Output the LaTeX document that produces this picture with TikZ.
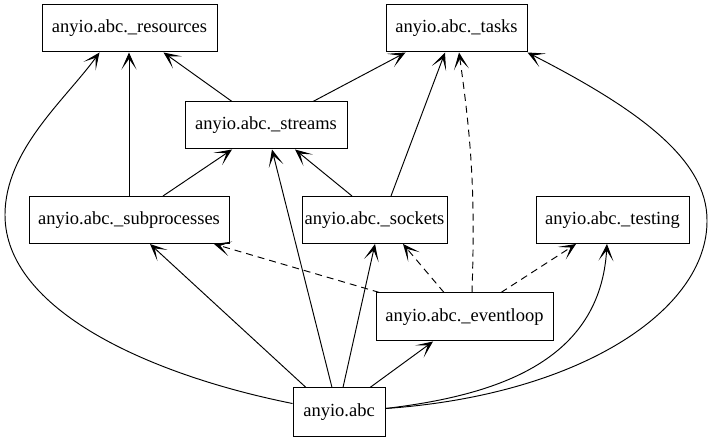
\documentclass[tikz,border=0pt]{standalone}
\usepackage{fontspec}
\setmainfont{Liberation Serif}
\usetikzlibrary{arrows.meta}
\begin{document}
\begin{tikzpicture}[x=1pt,y=-1pt,
  mod/.style={draw,line width=1pt,rectangle,inner sep=0pt,minimum height=47pt,font=\fontsize{18.5}{22}\selectfont},
  dep/.style={line width=0.95pt,-{Stealth[length=17pt,width=15pt,inset=10.5pt]}},
  weak/.style={dep,dash pattern=on 7pt off 5pt}]
\useasboundingbox (0,0) rectangle (715,443);
\node[mod,minimum width=175pt] (res) at (129.5,28.5) {anyio.abc.\_resources};
\node[mod,minimum width=141pt] (tasks) at (456.5,28.5) {anyio.abc.\_tasks};
\node[mod,minimum width=162pt] (streams) at (266,125.5) {anyio.abc.\_streams};
\node[mod,minimum width=200pt] (sub) at (129,220) {anyio.abc.\_subprocesses};
\node[mod,minimum width=145pt] (sock) at (374.5,220) {anyio.abc.\_sockets};
\node[mod,minimum width=153pt] (test) at (612.5,220) {anyio.abc.\_testing};
\node[mod,minimum width=177pt,minimum height=48pt] (el) at (464.5,317) {anyio.abc.\_eventloop};
\node[mod,minimum width=92pt,minimum height=49pt] (abc) at (339,412.5) {anyio.abc};
% solid dependencies
\draw[dep] (sub.north) -- (sub.north |- res.south);
\draw[dep] ([xshift=-34pt]streams.north) -- ([xshift=34pt]res.south);
\draw[dep] ([xshift=47pt]streams.north) -- ([xshift=-51pt]tasks.south);
\draw[dep] ([xshift=34pt]sub.north) -- ([xshift=-34pt]streams.south);
\draw[dep] ([xshift=-22.5pt]sock.north) -- ([xshift=29pt]streams.south);
\draw[dep] ([xshift=16.5pt]sock.north) -- ([xshift=-11.5pt]tasks.south);
\draw[dep] ([xshift=-33pt]abc.north) -- ([xshift=21pt]sub.south);
\draw[dep] ([xshift=-7pt]abc.north) -- ([xshift=6pt]streams.south);
\draw[dep] ([xshift=4pt]abc.north) -- ([xshift=0.5pt]sock.south);
\draw[dep] ([xshift=31pt]abc.north) -- ([xshift=-31.5pt]el.south);
\draw[dep] ([yshift=9pt]abc.west) .. controls (150,375) and (5,310) .. (5,215)
  .. controls (5,150) and (65,100) .. ([xshift=-30pt]res.south);
\draw[dep] ([yshift=4pt]abc.east) .. controls (500,395) and (600,360) .. ([xshift=-5.5pt]test.south);
\draw[dep] ([yshift=4pt]abc.east) .. controls (580,395) and (708,310) .. (707,220)
  .. controls (707,160) and (640,110) .. (tasks.south east);
% dashed dependencies
\draw[weak] ([xshift=7.5pt]el.north) to[bend right=5] ([xshift=2.5pt]tasks.south);
\draw[weak] ([xshift=4pt]el.north west) -- ([xshift=85pt]sub.south);
\draw[weak] ([xshift=-20.5pt]el.north) -- ([xshift=28.5pt]sock.south);
\draw[weak] ([xshift=36.5pt]el.north) -- ([xshift=-36.5pt]test.south);
\end{tikzpicture}
\end{document}
